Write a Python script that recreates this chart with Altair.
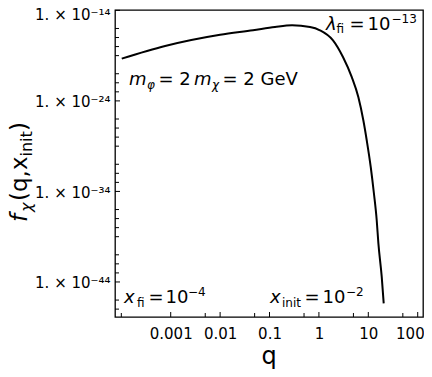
import math
import altair as alt
import pandas as pd

FONT = "DejaVu Sans"

# curve
q_vals = [1.02e-4, 7.7e-4, 1.0e-2, 0.0463, 0.129, 0.286, 0.66, 1.05, 1.93, 3.07,
          4.61, 6.28, 7.93, 9.29, 11.2, 13.0, 14.8, 16.0, 18.7, 20.5]
f_vals = [4.7e-20, 1.15e-18, 2.0e-17, 6.3e-17, 1.45e-16, 2.2e-16, 1.45e-16, 6.3e-17,
          4.9e-18, 7.1e-20, 4.5e-22, 2.7e-24, 7.2e-27, 4.5e-29, 5.0e-32, 5.9e-35,
          6.6e-38, 1.8e-40, 3.6e-44, 4.3e-47]

x_major = [0.001, 0.01, 0.1, 1, 10, 100]
x_minor = [1e-4, 0.005, 0.05, 0.5, 5, 50]
y_major = [1e-14, 1e-24, 1e-34, 1e-44]
y_major_labels = ["1. × 10⁻¹⁴", "1. × 10⁻²⁴", "1. × 10⁻³⁴", "1. × 10⁻⁴⁴"]
y_minor = [1e-16, 1e-17, 1e-18, 1e-19, 1e-21, 1e-22, 1e-23,
           1e-26, 1e-27, 1e-28, 1e-29, 1e-31, 1e-32, 1e-33,
           1e-36, 1e-37, 1e-38, 1e-39, 1e-41, 1e-42, 1e-43,
           1e-46, 1e-47]

W, H = 308, 307
X0, Y0 = 115, 10  # page position of plot origin

xscale = alt.Scale(type="log", domain=[7.45e-5, 128], nice=False)
yscale = alt.Scale(type="log", domain=[10 ** -47.87, 10 ** -13.96], nice=False)

df = pd.DataFrame({"q": q_vals, "f": f_vals})

ylab_expr = ""
for v, lab in zip(y_major, y_major_labels):
    ylab_expr += f"abs(log(datum.value)/LN10 - ({round(math.log10(v))})) < 0.5 ? '{lab}' : "
ylab_expr += "''"

xaxis = alt.Axis(values=x_major, format="~g", ticks=False, domain=False, grid=False,
                 labelFont=FONT, labelFontSize=15, labelColor="black",
                 labelPadding=9, title=None, labelFlush=False,
                 labelAlign={"condition": {"test": "datum.value > 50", "value": "right"},
                             "value": "center"},
                 labelOffset={"condition": {"test": "datum.value > 50", "value": 6.5},
                              "value": 0})
yaxis = alt.Axis(values=y_major, labelExpr=ylab_expr, ticks=False, domain=False,
                 grid=False, labelFont=FONT, labelFontSize=15, labelColor="black",
                 labelPadding=5, title=None, labelFlush=False,
                 labelOffset={"condition": {"test": "datum.value > 1e-15", "value": 4},
                              "value": 1})

line = alt.Chart(df).mark_line(color="black", strokeWidth=2, interpolate="monotone").encode(
    x=alt.X("q:Q", scale=xscale, axis=xaxis),
    y=alt.Y("f:Q", scale=yscale, axis=yaxis),
)


def xticks(vals, length):
    return alt.Chart(pd.DataFrame({"q": vals})).mark_rule(color="black", strokeWidth=1).encode(
        x=alt.X("q:Q", scale=xscale, axis=xaxis),
        y=alt.value(H), y2=alt.value(H - length))


def yticks(vals, length):
    return alt.Chart(pd.DataFrame({"f": vals})).mark_rule(color="black", strokeWidth=1).encode(
        y=alt.Y("f:Q", scale=yscale, axis=yaxis),
        x=alt.value(0), x2=alt.value(length))


def txt(s, px, py, size, italic=False, angle=0, align="left"):
    kw = dict(text=s, fontSize=size, font=FONT, align=align, baseline="alphabetic",
              color="black")
    if italic:
        kw["fontStyle"] = "italic"
    if angle:
        kw["angle"] = angle
    return alt.Chart(alt.Data(values=[{}])).mark_text(**kw).encode(
        x=alt.value(px - X0), y=alt.value(py - Y0))


texts = [
    # lambda_fi = 10^-13
    txt("λ", 326, 30, 18, italic=True),
    txt("fi", 336.5, 33, 12),
    txt("=", 349.5, 30, 18),
    txt("10", 367.5, 30, 18),
    txt("−13", 391.5, 23, 12),
    # m_phi = 2 m_chi = 2 GeV
    txt("m", 129, 85, 18, italic=True),
    txt("φ", 147, 89, 12, italic=True),
    txt("= 2", 158.5, 85, 18),
    txt("m", 194, 85, 18, italic=True),
    txt("χ", 212, 89, 12, italic=True),
    txt("= 2 GeV", 222.5, 85, 18),
    # x_fi = 10^-4
    txt("x", 124, 303, 18, italic=True),
    txt("fi", 137, 307, 12),
    txt("=", 148.5, 303, 18),
    txt("10", 165.5, 303, 18),
    txt("−4", 188, 296, 12),
    # x_init = 10^-2
    txt("x", 270, 303, 18, italic=True),
    txt("init", 282, 306.5, 12),
    txt("=", 304.5, 303, 18),
    txt("10", 322.5, 303, 18),
    txt("−2", 346, 296, 12),
    # axis titles
    txt("q", 269, 364, 24, align="center"),
    txt("f", 27, 222, 23, italic=True, angle=270),
    txt("χ", 32, 212, 16, italic=True, angle=270),
    txt("(q,x", 27, 201, 23, angle=270),
    txt("init", 32, 156.5, 16, angle=270),
    txt(")", 27, 131, 23, angle=270),
]

chart = alt.layer(
    line,
    xticks(x_major, 5), xticks(x_minor, 4),
    yticks(y_major, 5), yticks(y_minor, 4),
    *texts,
).properties(
    width=W, height=H,
    autosize=alt.AutoSizeParams(type="none"),
    padding={"left": X0 - 8, "top": Y0 - 8, "right": 416 - (X0 - 8) - W, "bottom": 361 - (Y0 - 8) - H},
).configure_view(stroke="black", strokeWidth=1.3)

chart.save("out.html", embed_options={"renderer": "svg", "actions": False})
